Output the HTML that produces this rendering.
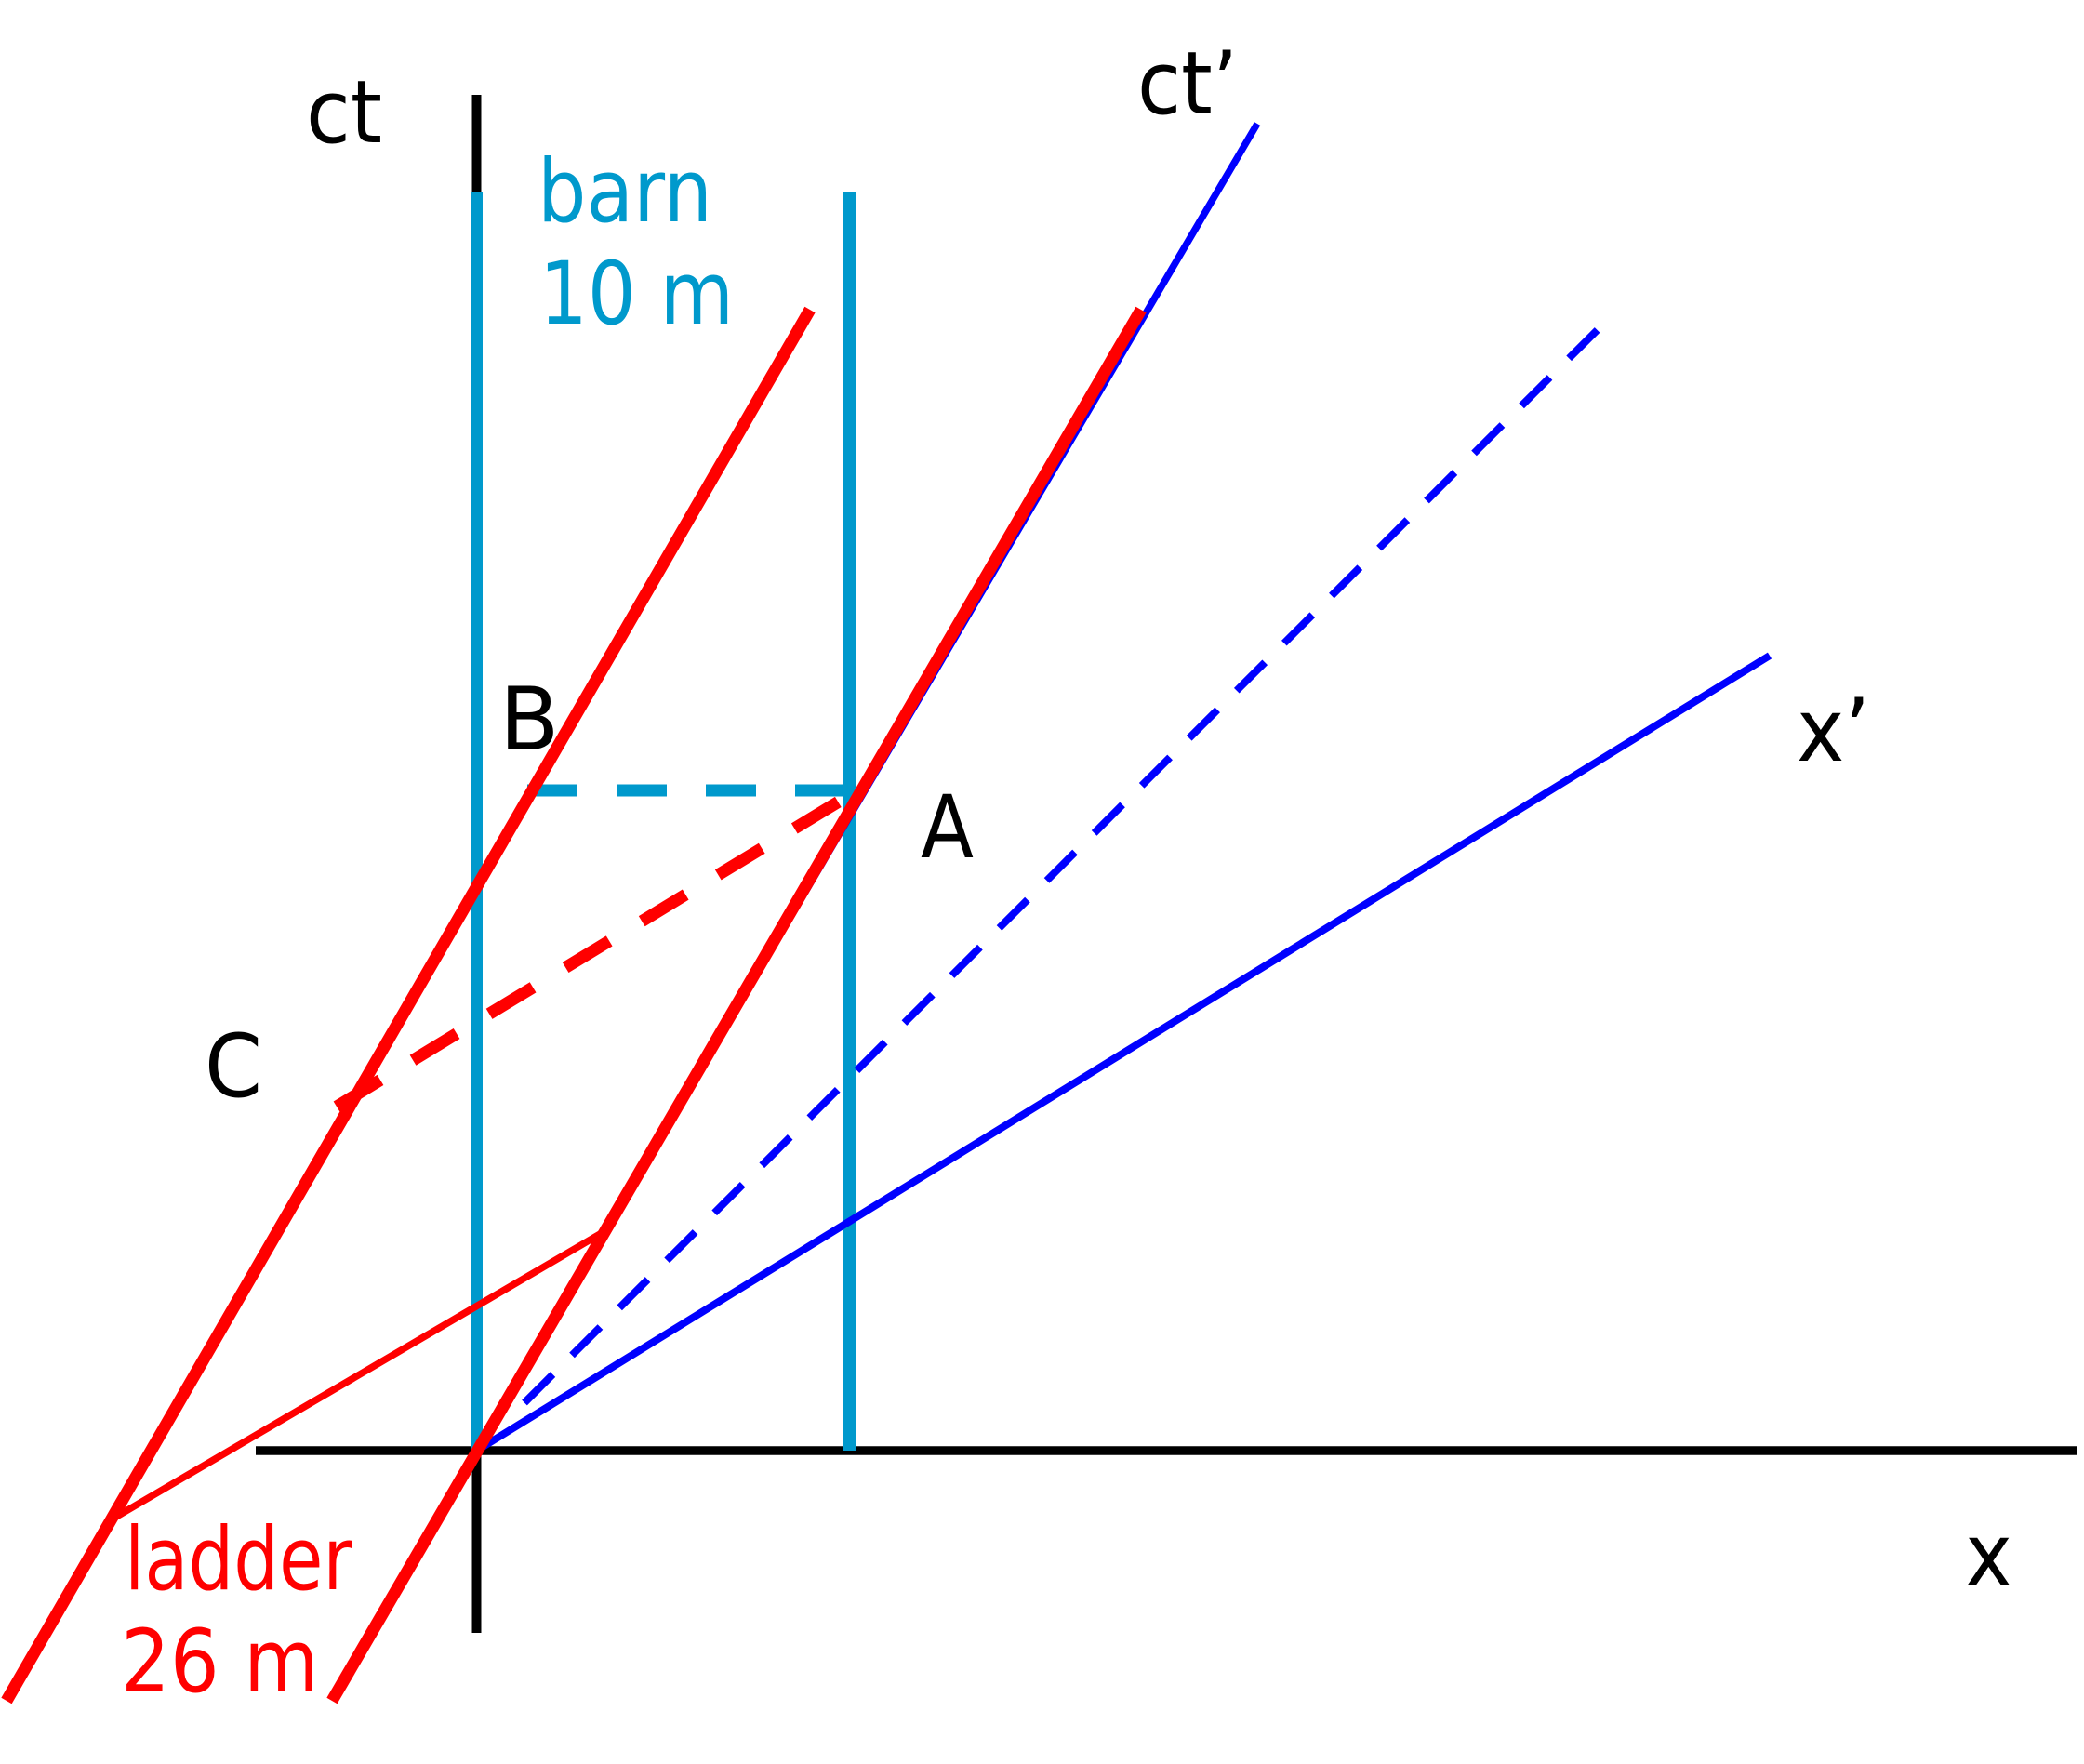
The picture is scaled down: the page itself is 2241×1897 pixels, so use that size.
<!DOCTYPE html>
<html>
<head>
<meta charset="utf-8">
<style>
  html, body { margin: 0; padding: 0; background: #ffffff; }
  svg { display: block; }
  text { font-family: "DejaVu Sans", "Liberation Sans", sans-serif; font-size: 94px; }
</style>
</head>
<body>
<svg width="2241" height="1897" viewBox="0 0 2241 1897" xmlns="http://www.w3.org/2000/svg">
  <rect x="0" y="0" width="2241" height="1897" fill="#ffffff"/>

  <!-- black axes -->
  <line x1="512.5" y1="102" x2="512.5" y2="1756" stroke="#000000" stroke-width="10"/>
  <line x1="275" y1="1560" x2="2234" y2="1560" stroke="#000000" stroke-width="9.5"/>

  <!-- barn worldlines -->
  <line x1="512.5" y1="206" x2="512.5" y2="1560" stroke="#0099cc" stroke-width="13"/>
  <line x1="913.5" y1="206" x2="913.5" y2="1560" stroke="#0099cc" stroke-width="13"/>
  <!-- barn dashed simultaneity -->
  <line x1="567" y1="850" x2="913" y2="850" stroke="#0099cc" stroke-width="13" stroke-dasharray="54 42"/>

  <!-- blue ct' axis -->
  <line x1="512.5" y1="1560" x2="1352" y2="133" stroke="#0000ff" stroke-width="7.5"/>
  <!-- blue x' axis -->
  <line x1="512.5" y1="1560" x2="1903" y2="705" stroke="#0000ff" stroke-width="8"/>
  <!-- blue dashed light line -->
  <line x1="564" y1="1508.5" x2="1718" y2="354.5" stroke="#0000ff" stroke-width="8" stroke-dasharray="43 29.2"/>

  <!-- red ladder worldlines -->
  <line x1="7" y1="1829" x2="871" y2="333" stroke="#ff0000" stroke-width="13"/>
  <line x1="357" y1="1829" x2="1227" y2="333" stroke="#ff0000" stroke-width="13"/>
  <!-- thin red ladder simultaneity -->
  <line x1="120" y1="1634" x2="647" y2="1326" stroke="#ff0000" stroke-width="7.5"/>
  <!-- red dashed -->
  <line x1="362" y1="1190" x2="902" y2="862" stroke="#ff0000" stroke-width="13" stroke-dasharray="55 41"/>

  <!-- labels -->
  <text x="329" y="153" fill="#000000" textLength="82" lengthAdjust="spacingAndGlyphs">ct</text>
  <text x="1223" y="122" fill="#000000" textLength="108" lengthAdjust="spacingAndGlyphs">ct’</text>
  <text x="578" y="238" fill="#0099cc" textLength="188" lengthAdjust="spacingAndGlyphs">barn</text>
  <text x="580" y="348" fill="#0099cc" textLength="209" lengthAdjust="spacingAndGlyphs">10 m</text>
  <text x="537" y="806" fill="#000000">B</text>
  <text x="990" y="922" fill="#000000" textLength="57" lengthAdjust="spacingAndGlyphs">A</text>
  <text x="220" y="1179" fill="#000000" textLength="62" lengthAdjust="spacingAndGlyphs">C</text>
  <text x="1932" y="818" fill="#000000" textLength="79" lengthAdjust="spacingAndGlyphs">x’</text>
  <text x="2113" y="1705" fill="#000000" textLength="51" lengthAdjust="spacingAndGlyphs">x</text>
  <text x="134" y="1709" fill="#ff0000" textLength="245" lengthAdjust="spacingAndGlyphs">ladder</text>
  <text x="130" y="1819" fill="#ff0000" textLength="213" lengthAdjust="spacingAndGlyphs">26 m</text>
</svg>
</body>
</html>
